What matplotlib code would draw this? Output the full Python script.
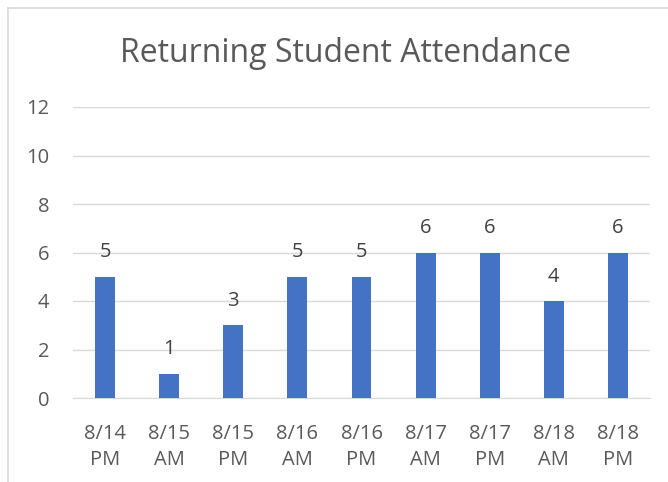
import matplotlib
matplotlib.use("Agg")
import matplotlib.pyplot as plt
from matplotlib.lines import Line2D

categories = ["8/14\nPM", "8/15\nAM", "8/15\nPM", "8/16\nAM", "8/16\nPM",
              "8/17\nAM", "8/17\nPM", "8/18\nAM", "8/18\nPM"]
values = [5, 1, 3, 5, 5, 6, 6, 4, 6]
yticks = [0, 2, 4, 6, 8, 10, 12]

plt.rcParams['font.family'] = ['Open Sans', 'DejaVu Sans']

fig = plt.figure(figsize=(6.68, 4.82), dpi=100)
ax = fig.add_axes([73/668, 1 - 398/482, 577/668, 291/482])

x = list(range(len(categories)))
bars = ax.bar(x, values, width=0.31, color="#4472C4", zorder=3)
ax.set_xlim(-0.5, len(categories) - 0.5)
ax.set_ylim(0, 12)
ax.set_yticks(yticks)
ax.set_xticks(x)
ax.set_xticklabels(categories, fontsize=14.5, color="#595959", linespacing=1.42)
ax.set_yticklabels([str(t) for t in yticks], fontsize=14.5, color="#595959")
ax.grid(axis="y", color="#d9d9d9", linewidth=1, zorder=0)
for s in ["top", "right", "left"]:
    ax.spines[s].set_visible(False)
ax.spines["bottom"].set_color("#d9d9d9")
ax.tick_params(axis="both", length=0)
ax.tick_params(axis="x", pad=18.5)
ax.tick_params(axis="y", pad=17)

for b, v in zip(bars, values):
    ax.annotate(str(v), (b.get_x() + b.get_width() / 2, v), xytext=(0, 17.5),
                textcoords="offset points", ha="center", va="center",
                fontsize=14.5, color="#404040")

fig.text(345/668, 1 - 54/482, "Returning Student Attendance", ha="center", va="center",
         fontsize=23, color="#595959")

fig.add_artist(Line2D([8/668, 8/668], [0, 1 - 8/482], transform=fig.transFigure,
                      color="#d9d9d9", linewidth=1.2))
fig.add_artist(Line2D([8/668, 1], [1 - 8/482, 1 - 8/482], transform=fig.transFigure,
                      color="#d9d9d9", linewidth=1.2))

fig.savefig("out.png", dpi=100)
